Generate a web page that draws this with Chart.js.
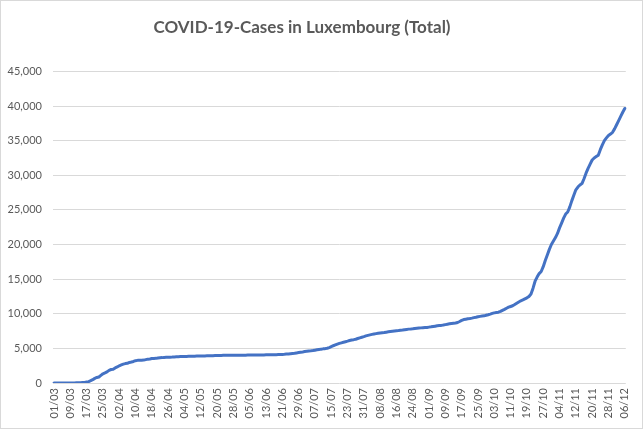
<!DOCTYPE html>
<html>
<head>
<meta charset="utf-8">
<title>COVID-19 Luxembourg</title>
<script src="https://cdn.jsdelivr.net/npm/chart.js@4.4.1/dist/chart.umd.min.js"></script>
<style>
  html, body { margin: 0; padding: 0; background: #fff; }
  #wrap { position: relative; width: 643px; height: 429px; }
  #wrap canvas { position: absolute; left: 0; top: 0; }
  #frame {
    position: absolute; left: 0; top: 0;
    width: 641px; height: 427px;
    border: 1px solid #d9d9d9;
    pointer-events: none;
  }
</style>
</head>
<body>
<div id="wrap">
  <canvas id="casesChart" width="643" height="429"></canvas>
  <div id="frame"></div>
</div>
<script>
const TITLE = 'COVID-19-Cases in Luxembourg (Total)';

// cumulative cases per day, one array per month (2020)
const march = [1, 1, 1, 1, 2, 3, 4, 5, 5, 7, 7, 26, 34, 51, 77, 81, 140, 203, 335, 484,
  670, 798, 875, 1099, 1333, 1453, 1605, 1831, 1950, 1988, 2178];
const april = [2319, 2487, 2612, 2729, 2804, 2843, 2970, 3034, 3115, 3223, 3270, 3281, 3292, 3307, 3373,
  3444, 3480, 3537, 3550, 3558, 3618, 3654, 3665, 3695, 3711, 3723, 3729, 3741, 3769, 3784];
const may = [3802, 3812, 3824, 3828, 3840, 3851, 3859, 3871, 3877, 3886, 3888, 3894, 3904, 3915, 3923,
  3930, 3945, 3947, 3958, 3971, 3980, 3981, 3990, 3993, 3995, 3995, 4001, 4008, 4012, 4016, 4018];
const june = [4019, 4020, 4024, 4032, 4035, 4039, 4040, 4047, 4050, 4052, 4054, 4055, 4063, 4069, 4072,
  4075, 4085, 4093, 4104, 4120, 4133, 4148, 4172, 4195, 4230, 4265, 4300, 4345, 4395, 4450];
const july = [4490, 4540, 4580, 4620, 4650, 4690, 4740, 4790, 4840, 4890, 4930, 4960, 5020, 5120, 5250,
  5380, 5500, 5620, 5720, 5800, 5880, 5960, 6040, 6130, 6210, 6260, 6320, 6420, 6520, 6610, 6700];
const august = [6800, 6880, 6950, 7020, 7080, 7130, 7180, 7230, 7260, 7290, 7340, 7390, 7430, 7470, 7510,
  7540, 7570, 7610, 7650, 7700, 7740, 7780, 7800, 7830, 7870, 7900, 7930, 7960, 7990, 8010, 8030];
const september = [8070, 8110, 8160, 8210, 8260, 8290, 8320, 8370, 8430, 8490, 8550, 8600, 8630, 8660, 8740,
  8880, 9040, 9160, 9220, 9270, 9310, 9370, 9440, 9500, 9570, 9620, 9660, 9700, 9780, 9860];
const october = [9950, 10050, 10130, 10180, 10230, 10340, 10490, 10640, 10800, 10950, 11050, 11150, 11330, 11520, 11700,
  11870, 12000, 12150, 12300, 12500, 12850, 13700, 14700, 15300, 15800, 16100, 16800, 17700, 18500, 19300, 20000];
const november = [20500, 21000, 21600, 22400, 23100, 23800, 24400, 24700, 25400, 26300, 27100, 27900, 28300, 28600, 28800,
  29500, 30300, 31000, 31600, 32200, 32500, 32700, 32900, 33700, 34400, 35000, 35400, 35750, 35950, 36200];
const december = [36700, 37300, 37900, 38500, 39100, 39650];

const monthNumbers = ['03', '04', '05', '06', '07', '08', '09', '10', '11', '12'];
const monthValues = [march, april, may, june, july, august, september, october, november, december];

const yTicks = [0, 5000, 10000, 15000, 20000, 25000, 30000, 35000, 40000, 45000];
const LABEL_EVERY = 8; // one date label every 8 days

// dd/mm labels and the flat series
const labels = [];
const cases = [];
monthValues.forEach((arr, m) => {
  arr.forEach((v, i) => {
    labels.push(String(i + 1).padStart(2, '0') + '/' + monthNumbers[m]);
    cases.push(v);
  });
});

const GREY = '#595959';
const GRID = '#d9d9d9';

// Excel puts the title a bit left of centre
const titleOffset = {
  id: 'titleOffset',
  afterLayout(chart) {
    chart.titleBlock.left = 0;
    chart.titleBlock.right = 604;
  },
};

Chart.defaults.font.family = 'Lato, "Open Sans", sans-serif';
Chart.defaults.color = GREY;

new Chart(document.getElementById('casesChart'), {
  type: 'line',
  data: {
    labels: labels,
    datasets: [
      {
        label: 'Total cases',
        data: cases,
        borderColor: '#4472C4',
        backgroundColor: '#4472C4',
        borderWidth: 3,
        pointRadius: 0,
        tension: 0,
        borderJoinStyle: 'round',
        borderCapStyle: 'round',
      },
    ],
  },
  options: {
    responsive: false,
    animation: false,
    devicePixelRatio: 1,
    layout: { padding: { left: 0, right: 15, top: 0, bottom: 0 } },
    plugins: {
      legend: { display: false },
      tooltip: { enabled: false },
      title: {
        display: true,
        text: TITLE,
        color: GREY,
        font: { size: 17, weight: 'bold' },
        padding: { top: 17, bottom: 34 },
      },
    },
    scales: {
      x: {
        type: 'category',
        offset: true,
        grid: { display: false, drawTicks: false },
        border: { display: false },
        ticks: {
          autoSkip: false,
          maxRotation: 90,
          minRotation: 90,
          padding: 5,
          color: GREY,
          font: { size: 11 },
          callback: function (value, index) {
            return index % LABEL_EVERY === 0 ? labels[index] : '';
          },
        },
        afterFit: function (scale) {
          scale.height = 46;
        },
      },
      y: {
        min: yTicks[0],
        max: yTicks[yTicks.length - 1],
        afterBuildTicks: function (scale) {
          scale.ticks = yTicks.map((v) => ({ value: v }));
        },
        grid: { color: GRID, lineWidth: 1, drawTicks: false },
        border: { display: false },
        ticks: {
          padding: 11,
          color: GREY,
          font: { size: 11 },
          callback: function (value) {
            return Number(value).toLocaleString('en-US');
          },
        },
        afterFit: function (scale) {
          scale.width = 53;
        },
      },
    },
  },
  plugins: [titleOffset],
});
</script>
</body>
</html>
